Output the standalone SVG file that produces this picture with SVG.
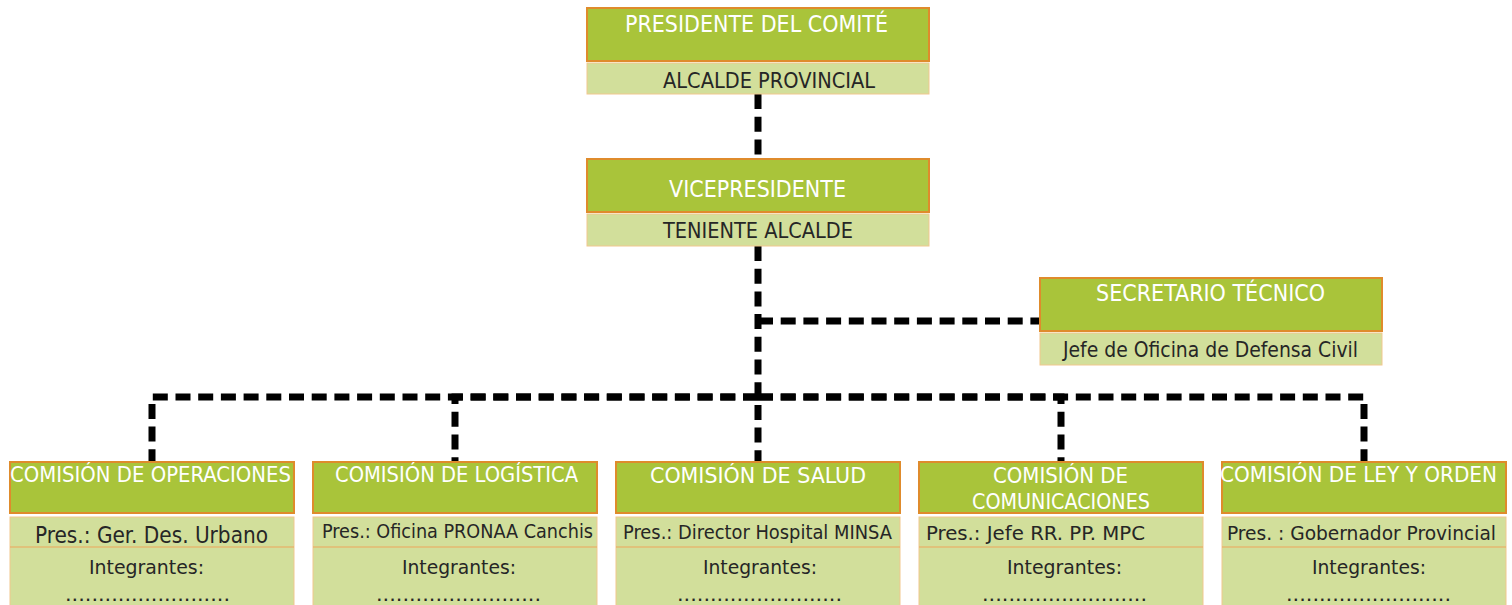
<svg xmlns="http://www.w3.org/2000/svg" width="1512" height="605" viewBox="0 0 1512 605">
<style>
.hd{fill:#a9c43a;stroke:#df8b2c;stroke-width:2}
.sb{fill:#d2df9b;stroke:#f1c78e;stroke-width:1}
.sep{stroke:#eda55a;stroke-width:1}
.tw{font-family:"DejaVu Sans Condensed","DejaVu Sans",sans-serif;fill:#ffffff}
.tk{font-family:"DejaVu Sans Condensed","DejaVu Sans",sans-serif;fill:#262626}
.cn{fill:none;stroke:#000;stroke-width:7;stroke-dasharray:15 7.7}
</style>
<rect width="1512" height="605" fill="#fff"/>
<g id="connectors">
<path class="cn" d="M758 94 V159"/>
<path class="cn" d="M758 246 V462"/>
<path class="cn" d="M758 321 H1039"/>
<path class="cn" d="M758 397 H152 V462"/>
<path class="cn" d="M758 397 H455 V462"/>
<path class="cn" d="M758 397 H1061 V462"/>
<path class="cn" d="M758 397 H1364 V462"/>
</g>
<g id="presidente">
<rect class="hd" x="587" y="8" width="342" height="53"/>
<rect class="sb" x="587" y="63" width="342" height="31"/>
<text class="tw" x="625" y="32" font-size="23" textLength="263" lengthAdjust="spacingAndGlyphs">PRESIDENTE DEL COMITÉ</text>
<text class="tk" x="663" y="88" font-size="22" textLength="212" lengthAdjust="spacingAndGlyphs">ALCALDE PROVINCIAL</text>
</g>
<g id="vicepresidente">
<rect class="hd" x="587" y="159" width="342" height="53"/>
<rect class="sb" x="587" y="214" width="342" height="32"/>
<text class="tw" x="669" y="197" font-size="23" textLength="177" lengthAdjust="spacingAndGlyphs">VICEPRESIDENTE</text>
<text class="tk" x="663" y="238" font-size="22" textLength="190" lengthAdjust="spacingAndGlyphs">TENIENTE ALCALDE</text>
</g>
<g id="secretario">
<rect class="hd" x="1040" y="278" width="342" height="53"/>
<rect class="sb" x="1040" y="333" width="342" height="32"/>
<text class="tw" x="1096" y="301" font-size="23" textLength="229" lengthAdjust="spacingAndGlyphs">SECRETARIO TÉCNICO</text>
<text class="tk" x="1063" y="357" font-size="22" textLength="295" lengthAdjust="spacingAndGlyphs">Jefe de Oficina de Defensa Civil</text>
</g>
<g id="operaciones">
<rect class="hd" x="10" y="462" width="284" height="51"/>
<rect class="sb" x="10" y="517" width="284" height="92"/>
<line class="sep" x1="10" y1="547" x2="294" y2="547"/>
<text class="tw" x="10" y="482" font-size="20.5" textLength="281" lengthAdjust="spacingAndGlyphs">COMISIÓN DE OPERACIONES</text>
<text class="tk" x="35" y="543" font-size="23" textLength="233" lengthAdjust="spacingAndGlyphs">Pres.: Ger. Des. Urbano</text>
<text class="tk" x="89" y="574" font-size="20" textLength="115" lengthAdjust="spacingAndGlyphs">Integrantes:</text>
<text class="tk" x="65" y="601" font-size="20" textLength="165" lengthAdjust="spacingAndGlyphs">.........................</text>
</g>
<g id="logistica">
<rect class="hd" x="313" y="462" width="284" height="51"/>
<rect class="sb" x="313" y="517" width="284" height="92"/>
<line class="sep" x1="313" y1="547" x2="597" y2="547"/>
<text class="tw" x="335" y="482" font-size="20.5" textLength="243" lengthAdjust="spacingAndGlyphs">COMISIÓN DE LOGÍSTICA</text>
<text class="tk" x="322" y="538" font-size="19.5" textLength="271" lengthAdjust="spacingAndGlyphs">Pres.: Oficina PRONAA Canchis</text>
<text class="tk" x="402" y="574" font-size="20" textLength="114" lengthAdjust="spacingAndGlyphs">Integrantes:</text>
<text class="tk" x="376" y="601" font-size="20" textLength="165" lengthAdjust="spacingAndGlyphs">.........................</text>
</g>
<g id="salud">
<rect class="hd" x="616" y="462" width="284" height="51"/>
<rect class="sb" x="616" y="517" width="284" height="92"/>
<line class="sep" x1="616" y1="547" x2="900" y2="547"/>
<text class="tw" x="650" y="483" font-size="20.5" textLength="216" lengthAdjust="spacingAndGlyphs">COMISIÓN DE SALUD</text>
<text class="tk" x="623" y="539" font-size="19.5" textLength="269" lengthAdjust="spacingAndGlyphs">Pres.: Director Hospital MINSA</text>
<text class="tk" x="703" y="574" font-size="20" textLength="114" lengthAdjust="spacingAndGlyphs">Integrantes:</text>
<text class="tk" x="677" y="601" font-size="20" textLength="165" lengthAdjust="spacingAndGlyphs">.........................</text>
</g>
<g id="comunicaciones">
<rect class="hd" x="919" y="462" width="284" height="51"/>
<rect class="sb" x="919" y="517" width="284" height="92"/>
<line class="sep" x1="919" y1="547" x2="1203" y2="547"/>
<text class="tw" x="993" y="483" font-size="20.5" textLength="135" lengthAdjust="spacingAndGlyphs">COMISIÓN DE</text>
<text class="tw" x="972" y="509" font-size="20.5" textLength="178" lengthAdjust="spacingAndGlyphs">COMUNICACIONES</text>
<text class="tk" x="926" y="540" font-size="19.5" textLength="219" lengthAdjust="spacingAndGlyphs">Pres.: Jefe RR. PP. MPC</text>
<text class="tk" x="1007" y="574" font-size="20" textLength="115" lengthAdjust="spacingAndGlyphs">Integrantes:</text>
<text class="tk" x="982" y="601" font-size="20" textLength="165" lengthAdjust="spacingAndGlyphs">.........................</text>
</g>
<g id="leyorden">
<rect class="hd" x="1222" y="462" width="284" height="51"/>
<rect class="sb" x="1222" y="517" width="284" height="92"/>
<line class="sep" x1="1222" y1="547" x2="1506" y2="547"/>
<text class="tw" x="1220" y="482" font-size="20.5" textLength="277" lengthAdjust="spacingAndGlyphs">COMISIÓN DE LEY Y ORDEN</text>
<text class="tk" x="1227" y="540" font-size="19.5" textLength="269" lengthAdjust="spacingAndGlyphs">Pres. : Gobernador Provincial</text>
<text class="tk" x="1312" y="574" font-size="20" textLength="114" lengthAdjust="spacingAndGlyphs">Integrantes:</text>
<text class="tk" x="1286" y="601" font-size="20" textLength="165" lengthAdjust="spacingAndGlyphs">.........................</text>
</g>
</svg>
